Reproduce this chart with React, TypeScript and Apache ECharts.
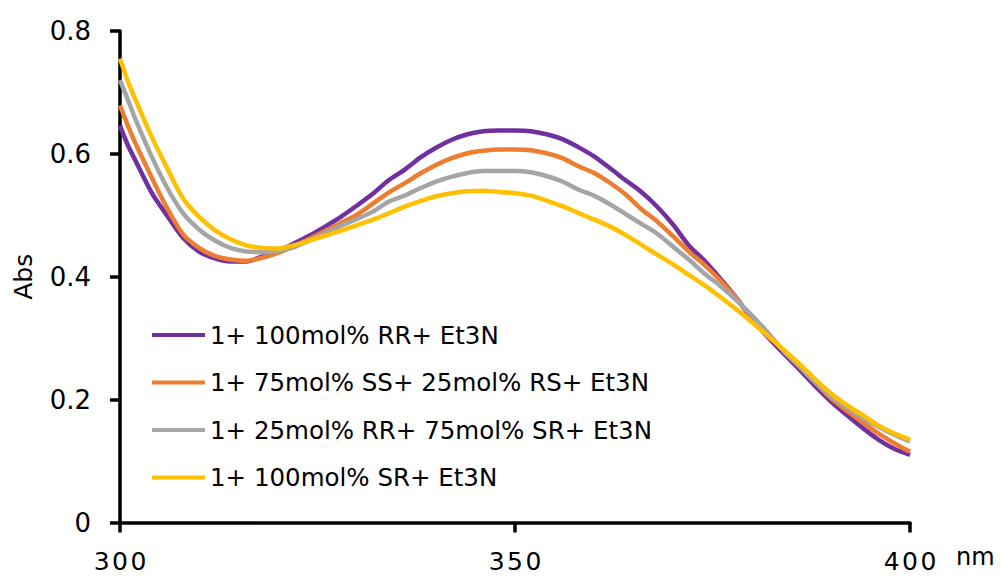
import React, { useEffect, useRef } from "react";
import * as echarts from "echarts";

const wavelengths = [300, 301, 302, 304, 306, 308, 310, 312, 314, 316, 318, 320, 322, 324, 326, 328, 330, 332, 334, 336, 338, 340, 342, 344, 346, 348, 350, 352, 354, 356, 358, 360, 362, 364, 366, 368, 370, 372, 374, 376, 378, 380, 382, 384, 386, 388, 390, 392, 394, 396, 398, 400];

const seriesNames = [
  "1+ 100mol% RR+ Et3N",
  "1+ 75mol% SS+ 25mol% RS+ Et3N",
  "1+ 25mol% RR+ 75mol% SR+ Et3N",
  "1+ 100mol% SR+ Et3N",
];

const purple = [0.646, 0.614, 0.588, 0.537, 0.499, 0.463, 0.441, 0.430, 0.425, 0.425, 0.433, 0.442, 0.454, 0.467, 0.482, 0.498, 0.516, 0.535, 0.557, 0.574, 0.594, 0.610, 0.623, 0.632, 0.637, 0.638, 0.638, 0.637, 0.632, 0.624, 0.611, 0.596, 0.577, 0.557, 0.538, 0.514, 0.485, 0.451, 0.426, 0.397, 0.366, 0.331, 0.302, 0.275, 0.249, 0.222, 0.197, 0.175, 0.154, 0.135, 0.120, 0.110];

const orange = [0.679, 0.646, 0.616, 0.562, 0.511, 0.469, 0.447, 0.434, 0.428, 0.426, 0.431, 0.439, 0.450, 0.462, 0.475, 0.488, 0.501, 0.519, 0.537, 0.552, 0.568, 0.582, 0.593, 0.601, 0.605, 0.607, 0.607, 0.606, 0.601, 0.593, 0.580, 0.569, 0.553, 0.534, 0.510, 0.490, 0.466, 0.441, 0.419, 0.394, 0.365, 0.332, 0.306, 0.280, 0.254, 0.228, 0.202, 0.182, 0.163, 0.145, 0.129, 0.115];

const gray = [0.720, 0.688, 0.655, 0.596, 0.544, 0.503, 0.477, 0.459, 0.447, 0.441, 0.440, 0.442, 0.448, 0.459, 0.471, 0.483, 0.494, 0.506, 0.522, 0.532, 0.544, 0.555, 0.563, 0.569, 0.572, 0.572, 0.572, 0.570, 0.564, 0.555, 0.542, 0.532, 0.518, 0.502, 0.486, 0.470, 0.449, 0.428, 0.405, 0.385, 0.362, 0.337, 0.309, 0.279, 0.254, 0.228, 0.205, 0.187, 0.170, 0.156, 0.143, 0.132];

const yellow = [0.755, 0.718, 0.687, 0.628, 0.576, 0.527, 0.498, 0.476, 0.461, 0.451, 0.447, 0.446, 0.451, 0.459, 0.467, 0.475, 0.484, 0.493, 0.503, 0.514, 0.523, 0.531, 0.536, 0.539, 0.540, 0.538, 0.536, 0.532, 0.524, 0.515, 0.504, 0.493, 0.482, 0.468, 0.452, 0.436, 0.420, 0.403, 0.386, 0.367, 0.347, 0.326, 0.304, 0.281, 0.258, 0.233, 0.210, 0.191, 0.175, 0.158, 0.145, 0.135];

const colors = ["#7030A0", "#ED7D31", "#A5A5A5", "#FFC000"];
const FONT = "DejaVu Sans";

export default function App() {
  const ref = useRef<HTMLDivElement>(null);
  useEffect(() => {
    if (!ref.current) return;
    const chart = echarts.init(ref.current, undefined, { renderer: "svg" });
    const values = [purple, orange, gray, yellow];
    chart.setOption({
      animation: false,
      backgroundColor: "#ffffff",
      grid: { left: 120, top: 31, width: 790, height: 491.5, containLabel: false },
      legend: {
        orient: "vertical",
        left: 152,
        top: 320,
        padding: 0,
        itemWidth: 53,
        itemHeight: 4,
        itemGap: 17.5,
        icon: "rect",
        textStyle: { fontFamily: FONT, fontSize: 24.5, color: "#000", lineHeight: 30 },
        data: seriesNames,
      },
      xAxis: {
        type: "value",
        min: 300,
        max: 400,
        interval: 50,
        name: "nm",
        nameLocation: "end",
        nameGap: 46,
        nameTextStyle: { fontFamily: FONT, fontSize: 24, color: "#000", verticalAlign: "top", padding: [22, 0, 0, 0] },
        axisLine: { lineStyle: { color: "#000", width: 3.5 } },
        axisTick: { show: true, length: 10, lineStyle: { color: "#000", width: 3.5 } },
        splitLine: { show: false },
        axisLabel: {
          margin: 28,
          fontFamily: FONT,
          fontSize: 25,
          lineHeight: 22,
          color: "#000",
          formatter: (v: number) => String(v).split("").join("\u200A"),
        },
      },
      yAxis: {
        type: "value",
        min: 0,
        max: 0.8,
        interval: 0.2,
        name: "Abs",
        nameLocation: "middle",
        nameGap: 84,
        nameRotate: 90,
        nameTextStyle: { fontFamily: FONT, fontSize: 25, color: "#000" },
        axisLine: { show: true, lineStyle: { color: "#000", width: 3.5 } },
        axisTick: { show: true, length: 10, lineStyle: { color: "#000", width: 3.5 } },
        splitLine: { show: false },
        axisLabel: { margin: 29, fontFamily: FONT, fontSize: 26, color: "#000" },
      },
      series: seriesNames.map((name, i) => ({
        name,
        type: "line",
        data: wavelengths.map((w, j) => [w, values[i][j]]),
        showSymbol: false,
        symbol: "none",
        smooth: 0.3,
        lineStyle: { color: colors[i], width: 4.5 },
        itemStyle: { color: colors[i] },
      })),
    });
    return () => chart.dispose();
  }, []);
  return <div ref={ref} style={{ width: 1002, height: 576, position: "absolute", left: 0, top: 0 }} />;
}
